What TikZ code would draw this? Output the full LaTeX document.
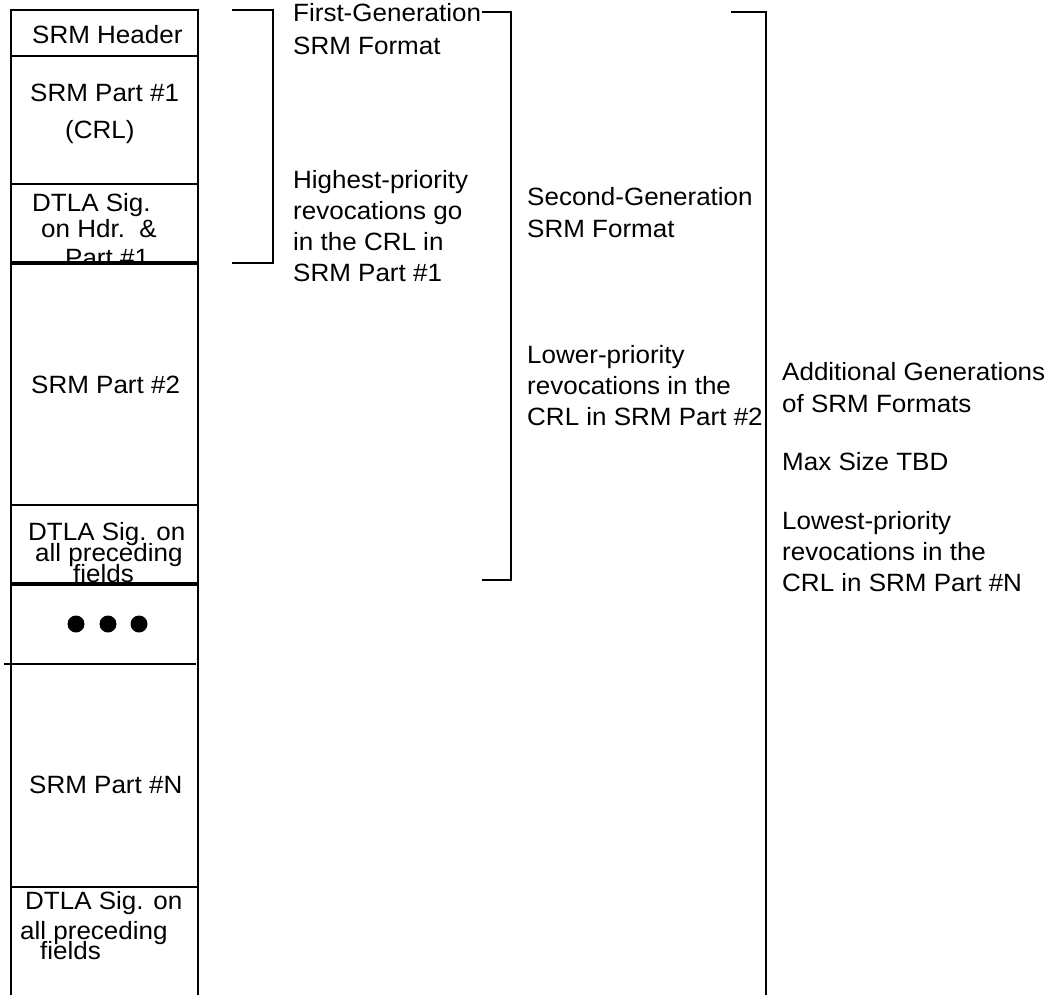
\documentclass[tikz,border=0pt]{standalone}
\usepackage{fontspec}
\setmainfont{Liberation Sans}[FakeStretch=1.04]
\begin{document}
\begin{tikzpicture}[x=1pt,y=-1pt,
  frame/.style={line width=2.8pt},
  thickrule/.style={line width=4.5pt},
  brk/.style={line width=2.8pt},
  lbl/.style={anchor=base west, inner sep=0pt, font=\fontsize{25}{30}\selectfont},
  dot/.style={fill=black}
]
\useasboundingbox (0,0) rectangle (1048,995);
\fill[white] (0,0) rectangle (1048,995);

% column texts
\node[lbl] (hdr) at (32,44) {SRM Header};
\node[lbl] (p1a) at (30,102) {SRM Part \#1};
\node[lbl] (p1b) at (65,139) {(CRL)};
\node[lbl] (s1a) at (32,211) {DTLA Sig.};
\node[lbl] (s1b) at (41,237) {on Hdr.\ \ \&};
\node[lbl] (s1c) at (65,266) {Part \#1};
\fill[white] (11,263) rectangle (198,505);
\node[lbl] (p2) at (31,393) {SRM Part \#2};
\node[lbl] (s2a) at (28,540) {DTLA Sig. on};
\node[lbl] (s2b) at (35,561) {all preceding};
\node[lbl] (s2c) at (73,582) {fields};
\fill[dot] (76,624) circle (8.5pt);
\fill[dot] (108,624) circle (8.5pt);
\fill[dot] (139,624) circle (8.5pt);
\node[lbl] (pN) at (29,793) {SRM Part \#N};
\node[lbl] (sNa) at (25,909) {DTLA Sig. on};
\node[lbl] (sNb) at (20,939) {all preceding};
\node[lbl] (sNc) at (40,959) {fields};

% annotations
\node[lbl] (g1a) at (293,22) {First-Generation};
\node[lbl] (g1b) at (293,55) {SRM Format};
\node[lbl] (h1a) at (293,188) {Highest-priority};
\node[lbl] (h1b) at (293,219) {revocations go};
\node[lbl] (h1c) at (293,250) {in the CRL in};
\node[lbl] (h1d) at (293,281) {SRM Part \#1};

\node[lbl] (g2a) at (527,205) {Second-Generation};
\node[lbl] (g2b) at (527,237) {SRM Format};
\node[lbl] (l2a) at (527,363) {Lower-priority};
\node[lbl] (l2b) at (527,394) {revocations in the};
\node[lbl] (l2c) at (527,425) {CRL in SRM Part \#2};

\node[lbl] (g3a) at (782,380) {Additional Generations};
\node[lbl] (g3b) at (782,412) {of SRM Formats};
\node[lbl] (mx) at (782,470) {Max Size TBD};
\node[lbl] (l3a) at (782,529) {Lowest-priority};
\node[lbl] (l3b) at (782,560) {revocations in the};
\node[lbl] (l3c) at (782,591) {CRL in SRM Part \#N};

% column frame
\draw[frame] (11,995) -- (11,10) -- (198,10) -- (198,995);
\draw[frame] (11,56) -- (198,56);
\draw[frame] (11,184) -- (198,184);
\draw[thickrule] (11,263) -- (198,263);
\draw[frame] (11,505) -- (198,505);
\draw[thickrule] (11,584) -- (198,584);
\draw[frame] (4,664) -- (196,664);
\draw[frame] (11,887) -- (198,887);

% brackets
\draw[brk] (232,10) -- (273,10) -- (273,263) -- (232,263);
\draw[brk] (482,12) -- (511,12) -- (511,580) -- (482,580);
\draw[brk] (731,12) -- (766,12) -- (766,995);
\end{tikzpicture}
\end{document}
